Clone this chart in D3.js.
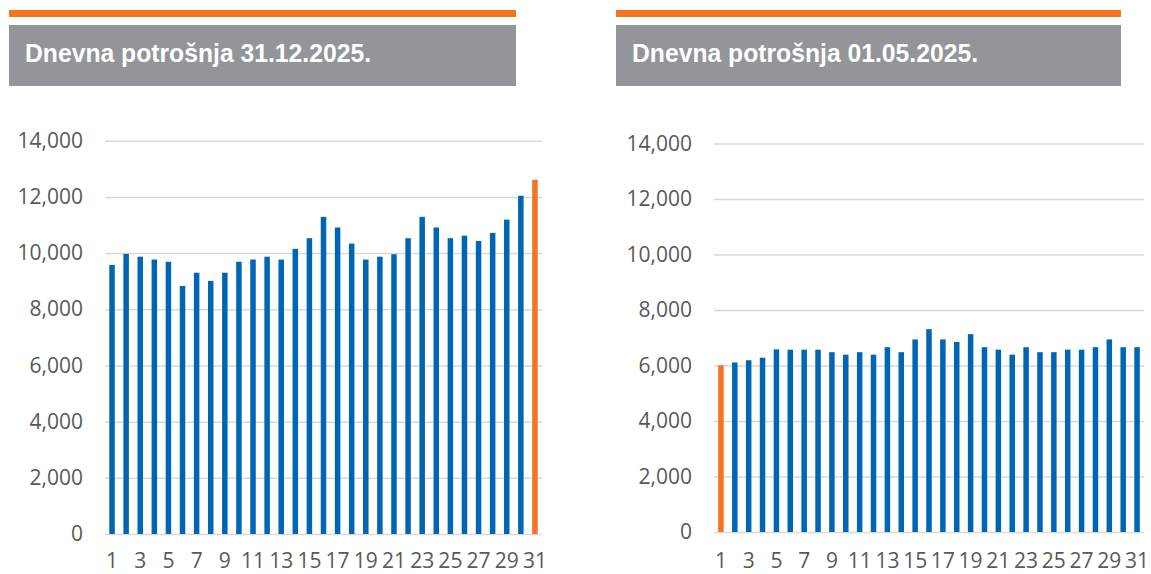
<!DOCTYPE html>
<html>
<head>
<meta charset="utf-8">
<script src="https://cdn.jsdelivr.net/npm/d3@7"></script>
<style>
  html, body { margin: 0; padding: 0; background: #fff; }
  svg { display: block; }
  .tick text { fill: #595959; font-family: "Open Sans", "Liberation Sans", sans-serif; font-size: 21px; }
</style>
</head>
<body>
<svg id="chart" width="1151" height="574"></svg>
<script>
// ---- data ----
const days = d3.range(1, 32);
const decValues = [9580, 9970, 9870, 9770, 9690, 8830, 9300, 9010, 9300, 9690,
                   9770, 9870, 9770, 10150, 10530, 11290, 10910, 10340, 9770, 9870,
                   9960, 10530, 11290, 10910, 10530, 10620, 10430, 10720, 11190, 12040, 12610];
const mayValues = [6010, 6110, 6190, 6280, 6580, 6570, 6570, 6570, 6480, 6390,
                   6480, 6390, 6660, 6480, 6940, 7310, 6940, 6850, 7130, 6660,
                   6570, 6390, 6660, 6480, 6480, 6570, 6570, 6660, 6940, 6660, 6660];
const yTicks = [0, 2000, 4000, 6000, 8000, 10000, 12000, 14000];
const xTickDays = days.filter(d => d % 2 === 1);
const titles = ["Dnevna potrošnja 31.12.2025.", "Dnevna potrošnja 01.05.2025."];
const highlightDays = [31, 1];

const charts = [
  { title: titles[0], values: decValues, highlight: highlightDays[0],
    box: [9, 516], textX: 25, plot: { x0: 105, x1: 542, yTop: 140.7, yBase: 534 } },
  { title: titles[1], values: mayValues, highlight: highlightDays[1],
    box: [616, 1121], textX: 632, plot: { x0: 714, x1: 1144, yTop: 143.5, yBase: 532 } }
];

const ORANGE = "#f47422", BLUE = "#0066b3", GREY_BOX = "#939598", GRID = "#d9d9d9";
const svg = d3.select("#chart");

charts.forEach(c => {
  const g = svg.append("g");
  // header
  g.append("rect").attr("x", c.box[0]).attr("y", 10).attr("width", c.box[1] - c.box[0]).attr("height", 7).attr("fill", ORANGE);
  g.append("rect").attr("x", c.box[0]).attr("y", 25).attr("width", c.box[1] - c.box[0]).attr("height", 61).attr("fill", GREY_BOX);
  g.append("text").attr("x", c.textX).attr("y", 62)
    .attr("fill", "#ffffff")
    .attr("font-family", "'Liberation Sans', Arial, sans-serif")
    .attr("font-weight", "bold").attr("font-size", 26)
    .attr("textLength", 346).attr("lengthAdjust", "spacingAndGlyphs")
    .text(c.title);

  const p = c.plot;
  const x = d3.scaleBand().domain(days).range([p.x0, p.x1]).paddingInner(0.6).paddingOuter(0.3);
  const y = d3.scaleLinear().domain([0, 14000]).range([p.yBase, p.yTop]);

  // gridlines
  const grid = g.append("g").attr("transform", `translate(${p.x0},0)`)
    .call(d3.axisLeft(y).tickValues(yTicks).tickSize(-(p.x1 - p.x0)).tickFormat(""));
  grid.select(".domain").remove();
  grid.selectAll(".tick line").attr("stroke", GRID).attr("stroke-width", 1.5);

  // y labels
  const ya = g.append("g").attr("transform", `translate(${p.x0},0)`)
    .call(d3.axisLeft(y).tickValues(yTicks).tickSize(0).tickPadding(22).tickFormat(d3.format(",")));
  ya.select(".domain").remove();

  // bars
  g.append("g").selectAll("rect").data(days).join("rect")
    .attr("x", d => x(d) + x.bandwidth() / 2 - 2.75)
    .attr("width", 5.5)
    .attr("y", d => y(c.values[d - 1]))
    .attr("height", d => y(0) - y(c.values[d - 1]))
    .attr("fill", d => d === c.highlight ? ORANGE : BLUE);

  // x labels (same absolute height for both panels)
  const xa = g.append("g").attr("transform", `translate(0,${p.yBase})`)
    .call(d3.axisBottom(x).tickValues(xTickDays).tickSize(0).tickPadding(553 - p.yBase));
  xa.select(".domain").remove();
});
</script>
</body>
</html>
